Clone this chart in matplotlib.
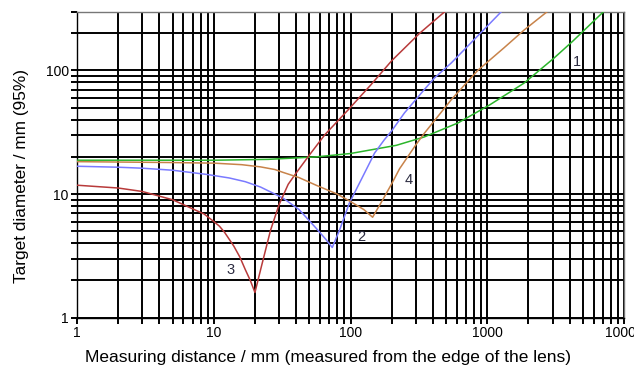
import matplotlib
matplotlib.use('Agg')
import matplotlib.pyplot as plt
from matplotlib.ticker import LogLocator, FixedLocator, NullFormatter
import numpy as np

plt.rcParams['font.family'] = ['Liberation Sans', 'DejaVu Sans']

# curve 1 (green)
x1 = [1, 10, 25, 56, 100, 216, 346, 612, 1050, 1855, 3050, 4200, 5300, 7100]
y1 = [18.8, 18.8, 19.1, 20.0, 21.3, 24.8, 29.0, 37.7, 53, 79, 125, 172, 220, 300]

# curve 2 (blue)
x2 = [1, 2, 3, 5, 9, 13, 17, 22, 32, 42, 56, 66, 73.5, 83, 98, 123, 150, 177, 200, 248, 346, 411, 545, 850, 1270]
y2 = [16.8, 16.5, 16.2, 15.6, 14.4, 13.5, 12.6, 11.4, 9.3, 7.5, 5.3, 4.3, 3.7, 5.1, 8.45, 13.9, 21.5, 27.6, 32.5, 45.4, 70, 87, 115, 190, 300]

# curve 3 (red)
x3 = [1, 2, 3, 5, 7, 8.5, 10, 11, 12, 14, 15.5, 17, 18.5, 20, 22.3, 26, 30, 35, 40, 50, 65, 96, 140, 200, 320, 490]
y3 = [11.8, 11.2, 10.5, 9.0, 7.6, 6.9, 6.0, 5.5, 4.9, 3.8, 3.1, 2.45, 2.0, 1.6, 2.6, 5.1, 8.2, 12.0, 14.8, 20.7, 30.3, 48, 76, 120, 200, 300]

# curve 4 (brown)
x4 = [1, 5, 10, 16, 22, 28, 32, 42, 56, 80, 100, 125, 145, 172, 203, 228, 300, 346, 545, 850, 1320, 1855, 2750]
y4 = [18.3, 18.0, 17.8, 17.3, 16.6, 15.8, 15.0, 13.6, 11.8, 10.0, 8.7, 7.5, 6.5, 9.0, 12.5, 16.0, 25.0, 31.0, 58, 100, 152, 212, 300]

curve_labels = ['1', '2', '3', '4']
label_pos = [(4540, 118), (120, 4.5), (13.2, 2.43), (265, 13.1)]

xticks = [1, 10, 100, 1000, 10000]
xticklabels = ['1', '10', '100', '1000', '10000']
yticks = [1, 10, 100]
yticklabels = ['1', '10', '100']

fig = plt.figure(figsize=(6.34, 3.69), dpi=100)
ax = fig.add_axes([0.1215, 0.139, 0.8628, 0.8298])

ax.plot(x1, y1, color='#2bb52b', lw=1.1, zorder=3)
ax.plot(x2, y2, color='#7a7aff', lw=1.1, zorder=3)
ax.plot(x3, y3, color='#b83a3a', lw=1.1, zorder=3)
ax.plot(x4, y4, color='#c8834a', lw=1.1, zorder=3)

for t, (lx, ly) in zip(curve_labels, label_pos):
    ax.text(lx, ly, t, fontsize=10.5, color='#2b2b40', ha='center', va='center', zorder=4)

ax.set_xscale('log')
ax.set_yscale('log')
ax.set_xlim(1, 10000)
ax.set_ylim(1, 300)

ax.xaxis.set_major_locator(FixedLocator(xticks))
ax.set_xticklabels(xticklabels)
ax.yaxis.set_major_locator(FixedLocator(yticks))
ax.set_yticklabels(yticklabels)
ax.xaxis.set_minor_locator(LogLocator(base=10, subs=np.arange(2, 10)))
ax.yaxis.set_minor_locator(LogLocator(base=10, subs=np.arange(2, 10)))
ax.xaxis.set_minor_formatter(NullFormatter())
ax.yaxis.set_minor_formatter(NullFormatter())

ax.grid(True, which='both', color='black', lw=1.4)
ax.tick_params(which='both', direction='out', length=4, width=1.4, color='black',
               labelsize=10, pad=2)
for s in ax.spines.values():
    s.set_color('black')
    s.set_linewidth(1.0)
ax.spines['top'].set_color('#777777')
ax.spines['right'].set_color('#777777')

ax.set_xlabel('Measuring distance / mm (measured from the edge of the lens)', fontsize=12.5)
ax.xaxis.set_label_coords(0.458, -0.105)
ax.set_ylabel('Target diameter / mm (95%)', fontsize=12.4)
ax.yaxis.set_label_coords(-0.088, 0.464)

fig.savefig('out.png', dpi=100)
